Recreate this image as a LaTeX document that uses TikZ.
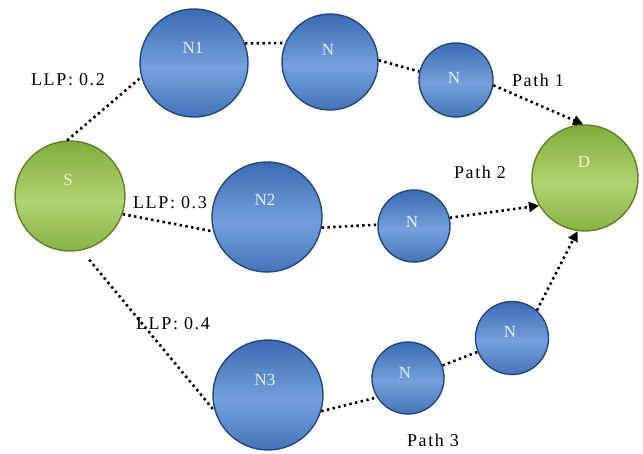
\documentclass[tikz,border=0pt]{standalone}
\usepackage{fontspec}
\setmainfont{Liberation Serif}
\newfontfamily\tagf[LetterSpace=9]{Liberation Serif}
\usetikzlibrary{arrows.meta,calc}
\definecolor{bbase}{HTML}{3A6AB2}
\definecolor{bmid}{HTML}{88B2E8}
\definecolor{bedge}{HTML}{23487F}
\definecolor{gbase}{HTML}{80AC3C}
\definecolor{gmid}{HTML}{C2DE84}
\definecolor{gedge}{HTML}{5E8427}
\definecolor{btext}{HTML}{E4EEF8}
\definecolor{gtext}{HTML}{EEF3C8}
\begin{document}
\begin{tikzpicture}[x=1pt,y=-1pt,
  bands/.style n args={2}{path picture={
    \foreach \i in {0,...,29}{
      \pgfmathsetmacro\m{max(0,75*(1-abs((\i+0.5)/30-0.55)/0.55))}
      \fill[#2!\m!#1]
        ($(path picture bounding box.north west)!{\i/30}!(path picture bounding box.south west)$)
        rectangle
        ($(path picture bounding box.north east)!{(\i+1.1)/30}!(path picture bounding box.south east)$);
    }}},
  bnode/.style={circle,inner sep=0pt,fill=bbase,bands={bbase}{bmid},draw=bedge,line width=1.4pt},
  gnode/.style={circle,inner sep=0pt,fill=gbase,bands={gbase}{gmid},draw=gedge,line width=1.4pt},
  blbl/.style={text=btext,font=\fontsize{17}{17}\selectfont},
  glbl/.style={text=gtext,font=\fontsize{17}{17}\selectfont},
  link/.style={line width=2.6pt,dash pattern=on 2.4pt off 3.4pt},
  arr/.style={link,-{Triangle[length=10pt,width=10pt]}},
  tag/.style={font=\tagf\fontsize{18}{18}\selectfont,inner sep=0pt}
]
\useasboundingbox (0,0) rectangle (643,454);
\fill[white] (0,0) rectangle (643,454);
% nodes
\node[gnode,minimum size=110pt] (S) at (70,196) {};
\node[glbl] at (68,180) {S};
\node[gnode,minimum size=106pt] (D) at (585,178) {};
\node[glbl] at (584,162) {D};
\node[bnode,minimum size=108pt] (N1) at (194,63) {};
\node[blbl] at (193,48) {N1};
\node[bnode,minimum size=96pt] (Na) at (330,62) {};
\node[blbl] at (328,50) {N};
\node[bnode,minimum size=74pt] (Nb) at (456,80) {};
\node[blbl] at (454,78) {N};
\node[bnode,minimum size=110pt] (N2) at (267,217) {};
\node[blbl] at (265,200) {N2};
\node[bnode,minimum size=72pt] (Nc) at (414,226) {};
\node[blbl] at (412,222) {N};
\node[bnode,minimum size=110pt] (N3) at (268,395) {};
\node[blbl] at (265,380) {N3};
\node[bnode,minimum size=72pt] (Nd) at (408,378) {};
\node[blbl] at (405,373) {N};
\node[bnode,minimum size=73pt] (Ne) at (512,338) {};
\node[blbl] at (510,332) {N};
% connectors path 1
\draw[link] (S.93) -- (N1.195);
\draw[link] (N1.21) -- (Na.157);
\draw[link] (Na.2) -- (Nb.167);
\draw[arr] (Nb.352) -- (D.92);
% path 2
\draw[link] (S.341) -- (N2.195);
\draw[link] (N2.349) -- (Nc.178);
\draw[arr] (Nc.13) -- (D.211);
% path 3
\draw[link,shorten <=12pt] (S.282) -- (N3.197);
\draw[link] (N3.343) -- (Nd.212);
\draw[link] (Nd.20) -- (Ne.202);
\draw[arr] (Ne.48) -- (D.262);
% labels
\node[tag] (l1) at (68,80) {LLP: 0.2};
\node[tag] (l2) at (170,203) {LLP: 0.3};
\node[tag] (l3) at (173,324) {LLP: 0.4};
\node[tag] (p1) at (538,80) {Path 1};
\node[tag] (p2) at (480,172) {Path 2};
\node[tag] (p3) at (433,440) {Path 3};
\end{tikzpicture}
\end{document}
